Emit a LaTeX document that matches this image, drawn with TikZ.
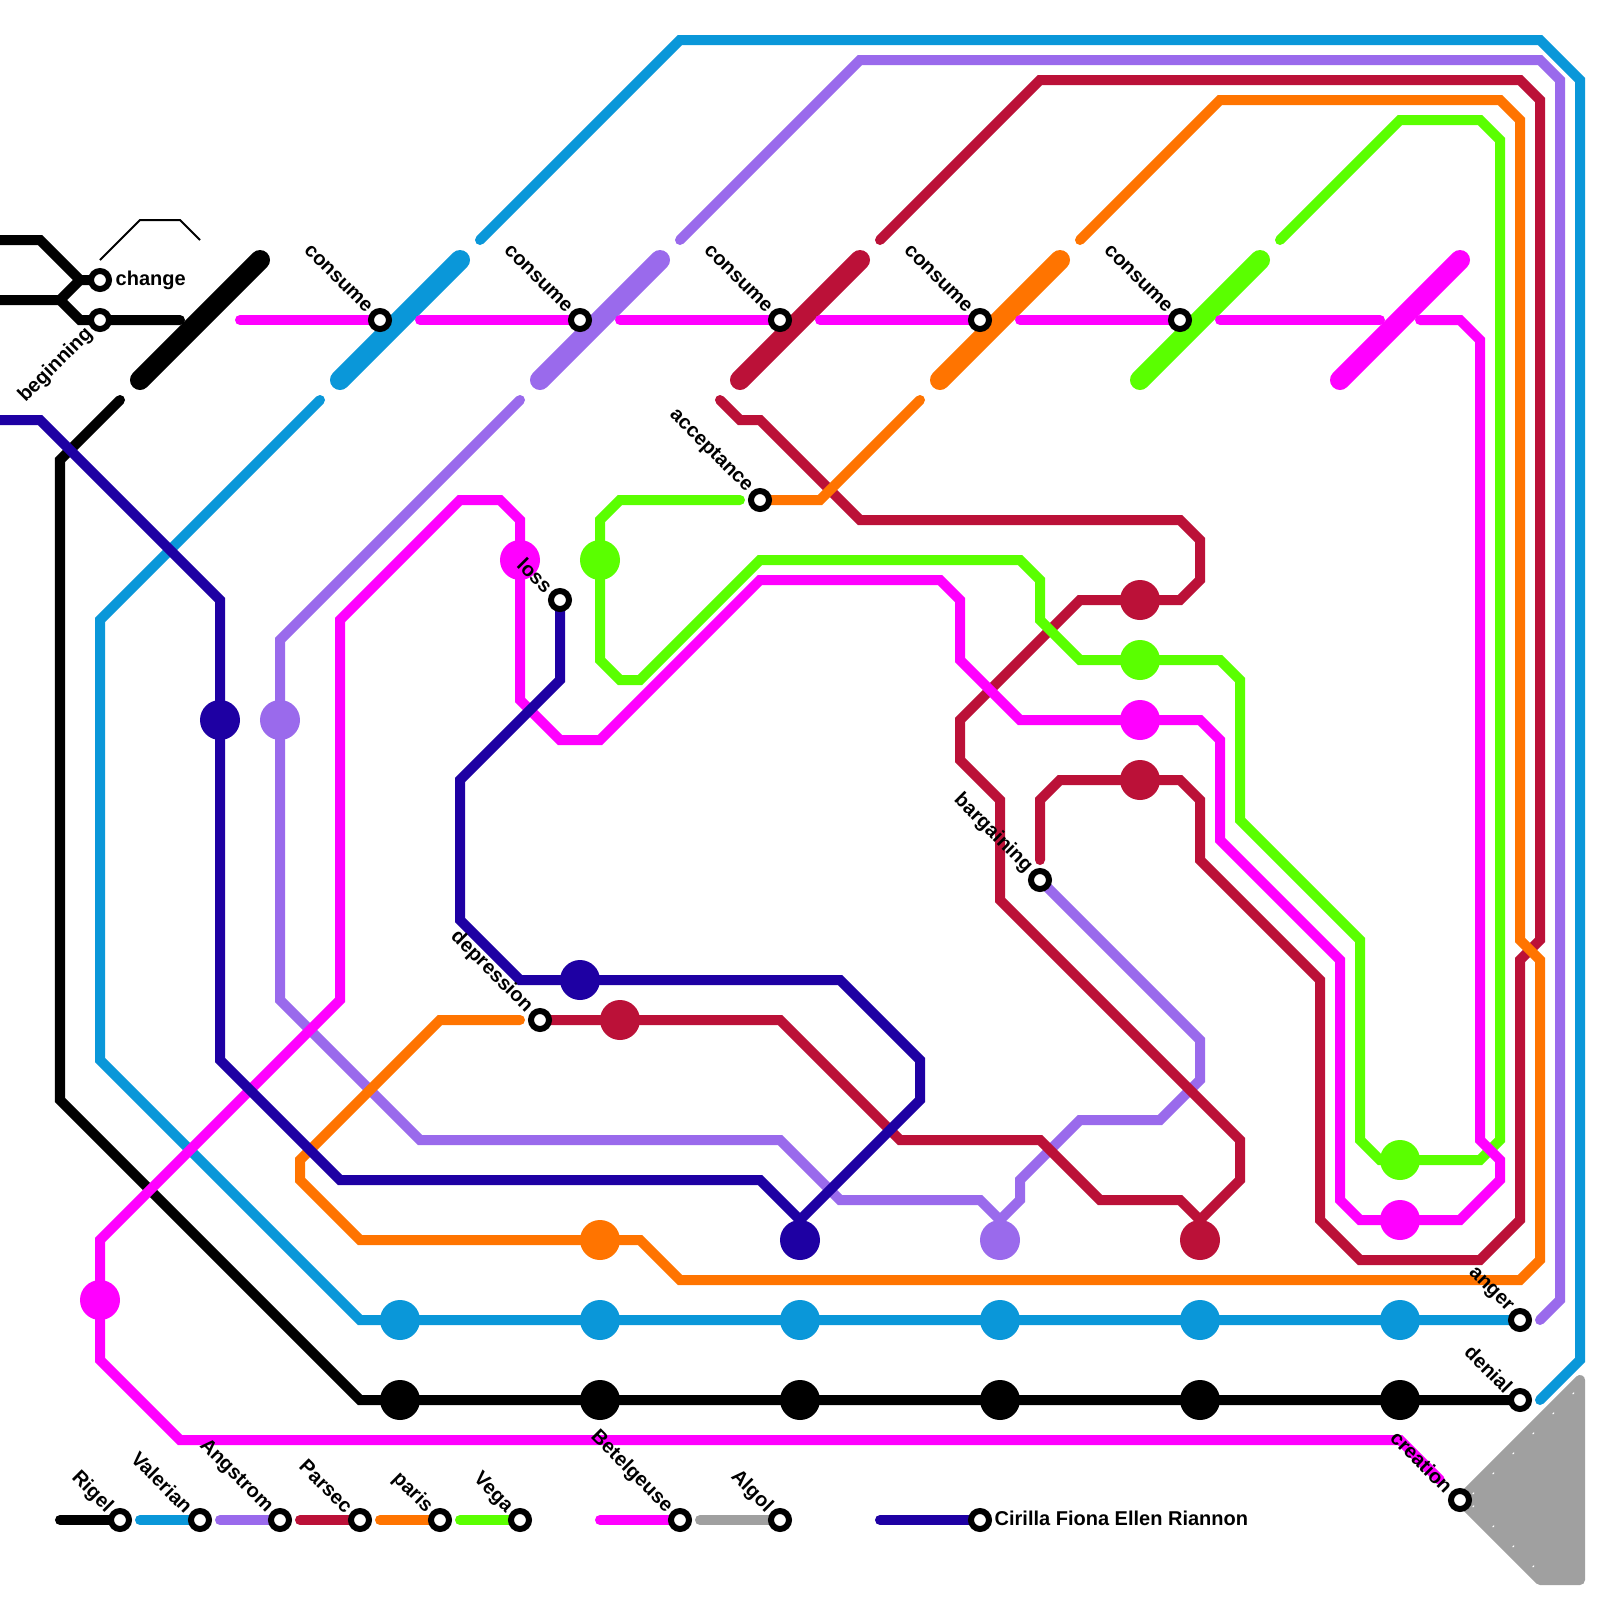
\documentclass[tikz,border=0pt]{standalone}
\usepackage{fontspec}
\setmainfont{Liberation Sans}
\definecolor{cRigel}{HTML}{000000}
\definecolor{cValerian}{HTML}{0A97D9}
\definecolor{cAngstrom}{HTML}{9A6AEC}
\definecolor{cParsec}{HTML}{BB1138}
\definecolor{cParis}{HTML}{FF7400}
\definecolor{cVega}{HTML}{5AFF00}
\definecolor{cBetel}{HTML}{FF00FF}
\definecolor{cAlgol}{HTML}{A0A0A0}
\definecolor{cCirilla}{HTML}{1E00A3}
\tikzset{
  metro/.style={draw=#1,line width=0.1cm,line cap=round,line join=miter,miter limit=10},
  fatline/.style={draw=#1,line width=0.2cm,line cap=round},
  dot/.style={circle,fill=#1,minimum size=0.4cm,inner sep=0pt,outer sep=0pt},
  stop/.style={circle,draw=black,fill=white,line width=0.06cm,minimum size=0.18cm,inner sep=0pt,outer sep=0pt},
  lab/.style={font=\fontsize{5.69}{7}\selectfont\bfseries,inner sep=0pt,text=black},
  labdown/.style={lab,rotate=-45,anchor=east,xshift=0.012cm,yshift=-0.016cm},
  labup/.style={lab,rotate=45,anchor=east},
  labright/.style={lab,anchor=west},
}
\begin{document}
\begin{tikzpicture}[x=0.2cm,y=-0.2cm]
\useasboundingbox (0,0) rectangle (80,80);
% ---- stations (declared first so the lines can refer to them; repainted on top)
\path
 (5,14) coordinate (change) (5,16) coordinate (beginning)
 (19,16) coordinate (consA) (29,16) coordinate (consB) (39,16) coordinate (consC)
 (49,16) coordinate (consD) (59,16) coordinate (consE)
 (38,25) coordinate (acceptance) (28,30) coordinate (loss) (52,44) coordinate (bargaining)
 (27,51) coordinate (depression) (76,66) coordinate (anger) (76,70) coordinate (denial)
 (73,75) coordinate (creation)
 (6,76) coordinate (lgRigel) (10,76) coordinate (lgValerian) (14,76) coordinate (lgAngstrom)
 (18,76) coordinate (lgParsec) (22,76) coordinate (lgParis) (26,76) coordinate (lgVega)
 (34,76) coordinate (lgBetel) (39,76) coordinate (lgAlgol) (49,76) coordinate (lgCirilla);
% ---- free ends
\path
 (0,12) coordinate (kA) (0,15) coordinate (kB) (9,16) coordinate (kC) (6,20) coordinate (kD)
 (5,13) coordinate (thA) (10,12) coordinate (thB)
 (7,19) coordinate (fatKa) (13,13) coordinate (fatKb)
 (17,19) coordinate (fatVa) (23,13) coordinate (fatVb)
 (27,19) coordinate (fatAa) (33,13) coordinate (fatAb)
 (37,19) coordinate (fatPa) (43,13) coordinate (fatPb)
 (47,19) coordinate (fatOa) (53,13) coordinate (fatOb)
 (57,19) coordinate (fatGa) (63,13) coordinate (fatGb)
 (67,19) coordinate (fatMa) (73,13) coordinate (fatMb);
% ---- grey Algol area
\draw[cAlgol,fill=cAlgol,line width=0.1cm,line join=round] (creation) -- (79,69) -- (79,79) -- (77,79) -- cycle;
\foreach \mx/\my in {1573/1393,1553/1413,1533/1433,1513/1453,1493/1473,1473/1493,1473/1506,1493/1526,1513/1546,1533/1566}
  \fill[white] (\mx/20-0.05,\my/20+0.05) -- (\mx/20+0.05,\my/20+0.05) -- (\mx/20+0.05,\my/20-0.05) -- cycle;
% ---- Rigel
\draw[metro=cRigel] (kA) -- (2,12) -- (4,14) -- (change);
\draw[metro=cRigel] (kB) -- (3,15) -- (4,14);
\draw[metro=cRigel] (3,15) -- (4,16) -- (beginning) -- (kC);
\draw[metro=cRigel] (kD) -- (3,23) -- (3,55) -- (18,70) -- (denial);
\draw[fatline=cRigel] (fatKa) -- (fatKb);
\draw[black,line width=0.02cm] (thA) -- (7,11) -- (9,11) -- (thB);
\node[dot=cRigel] (rA) at (20,70) {};
\node[dot=cRigel] (rB) at (30,70) {};
\node[dot=cRigel] (rC) at (40,70) {};
\node[dot=cRigel] (rD) at (50,70) {};
\node[dot=cRigel] (rE) at (60,70) {};
\node[dot=cRigel] (rF) at (70,70) {};
\draw[metro=cRigel] (3,76) -- (lgRigel);
% ---- Valerian
\draw[metro=cValerian] (24,12) -- (34,2) -- (77,2) -- (79,4) -- (79,68) -- (77,70);
\draw[fatline=cValerian] (fatVa) -- (fatVb);
\draw[metro=cValerian] (16,20) -- (5,31) -- (5,53) -- (18,66) -- (anger);
\node[dot=cValerian] (vA) at (20,66) {};
\node[dot=cValerian] (vB) at (30,66) {};
\node[dot=cValerian] (vC) at (40,66) {};
\node[dot=cValerian] (vD) at (50,66) {};
\node[dot=cValerian] (vE) at (60,66) {};
\node[dot=cValerian] (vF) at (70,66) {};
\draw[metro=cValerian] (7,76) -- (lgValerian);
% ---- Angstrom
\draw[metro=cAngstrom] (34,12) -- (43,3) -- (77,3) -- (78,4) -- (78,65) -- (77,66);
\draw[fatline=cAngstrom] (fatAa) -- (fatAb);
\draw[metro=cAngstrom] (26,20) -- (14,32) -- (14,50) -- (21,57) -- (39,57) -- (42,60) -- (49,60) -- (50,61) -- (50,62);
\draw[metro=cAngstrom] (bargaining) -- (60,52) -- (60,54) -- (58,56) -- (54,56) -- (51,59) -- (51,60) -- (50,61);
\node[dot=cAngstrom] (aA) at (14,36) {};
\node[dot=cAngstrom] (aB) at (50,62) {};
\draw[metro=cAngstrom] (11,76) -- (lgAngstrom);
% ---- Parsec
\draw[metro=cParsec] (44,12) -- (52,4) -- (76,4) -- (77,5) -- (77,47) -- (76,48) -- (76,61) -- (74,63) -- (68,63) -- (66,61) -- (66,49) -- (60,43) -- (60,40) -- (59,39) -- (53,39) -- (52,40) -- (52,43);
\draw[fatline=cParsec] (fatPa) -- (fatPb);
\draw[metro=cParsec] (36,20) -- (37,21) -- (38,21) -- (43,26) -- (59,26) -- (60,27) -- (60,29) -- (59,30) -- (54,30) -- (48,36) -- (48,38) -- (50,40) -- (50,45) -- (62,57) -- (62,59) -- (60,61) -- (59,60) -- (55,60) -- (52,57) -- (45,57) -- (39,51) -- (depression);
\draw[metro=cParsec] (60,61) -- (60,62);
\node[dot=cParsec] (pA) at (31,51) {};
\node[dot=cParsec] (pB) at (57,30) {};
\node[dot=cParsec] (pC) at (57,39) {};
\node[dot=cParsec] (pD) at (60,62) {};
\draw[metro=cParsec] (15,76) -- (lgParsec);
% ---- paris
\draw[metro=cParis] (54,12) -- (61,5) -- (75,5) -- (76,6) -- (76,47) -- (77,48) -- (77,63) -- (76,64) -- (34,64) -- (32,62) -- (18,62) -- (15,59) -- (15,58) -- (22,51) -- (26,51);
\draw[fatline=cParis] (fatOa) -- (fatOb);
\draw[metro=cParis] (46,20) -- (41,25) -- (acceptance);
\node[dot=cParis] (oA) at (30,62) {};
\draw[metro=cParis] (19,76) -- (lgParis);
% ---- Vega
\draw[metro=cVega] (64,12) -- (70,6) -- (74,6) -- (75,7) -- (75,57) -- (74,58) -- (69,58) -- (68,57) -- (68,47) -- (62,41) -- (62,34) -- (61,33) -- (54,33) -- (52,31) -- (52,29) -- (51,28) -- (38,28) -- (32,34) -- (31,34) -- (30,33) -- (30,26) -- (31,25) -- (37,25);
\draw[fatline=cVega] (fatGa) -- (fatGb);
\node[dot=cVega] (gA) at (30,28) {};
\node[dot=cVega] (gB) at (57,33) {};
\node[dot=cVega] (gC) at (70,58) {};
\draw[metro=cVega] (23,76) -- (lgVega);
% ---- Betelgeuse
\draw[metro=cBetel] (12,16) -- (consA);
\draw[metro=cBetel] (21,16) -- (consB);
\draw[metro=cBetel] (31,16) -- (consC);
\draw[metro=cBetel] (41,16) -- (consD);
\draw[metro=cBetel] (51,16) -- (consE);
\draw[metro=cBetel] (61,16) -- (69,16);
\draw[fatline=cBetel] (fatMa) -- (fatMb);
\draw[metro=cBetel] (71,16) -- (73,16) -- (74,17) -- (74,57) -- (75,58) -- (75,59) -- (73,61) -- (68,61) -- (67,60) -- (67,48) -- (61,42) -- (61,37) -- (60,36) -- (51,36) -- (48,33) -- (48,30) -- (47,29) -- (38,29) -- (30,37) -- (28,37) -- (26,35) -- (26,26) -- (25,25) -- (23,25) -- (17,31) -- (17,50) -- (5,62) -- (5,68) -- (9,72) -- (70,72) -- (72,74);
\node[dot=cBetel] (mA) at (26,28) {};
\node[dot=cBetel] (mB) at (57,36) {};
\node[dot=cBetel] (mC) at (70,61) {};
\node[dot=cBetel] (mD) at (5,65) {};
\draw[metro=cBetel] (30,76) -- (lgBetel);
% ---- Algol legend
\draw[metro=cAlgol] (35,76) -- (lgAlgol);
% ---- Cirilla
\draw[metro=cCirilla] (0,21) -- (2,21) -- (11,30) -- (11,53) -- (17,59) -- (38,59) -- (40,61) -- (46,55) -- (46,53) -- (42,49) -- (26,49) -- (23,46) -- (23,39) -- (28,34) -- (loss);
\draw[metro=cCirilla] (40,61) -- (40,62);
\node[dot=cCirilla] (cA) at (11,36) {};
\node[dot=cCirilla] (cB) at (29,49) {};
\node[dot=cCirilla] (cC) at (40,62) {};
\draw[metro=cCirilla] (44,76) -- (lgCirilla);
% ---- station rings
\foreach \s in {change,beginning,consA,consB,consC,consD,consE,acceptance,loss,bargaining,depression,anger,denial,creation,lgRigel,lgValerian,lgAngstrom,lgParsec,lgParis,lgVega,lgBetel,lgAlgol,lgCirilla}
  \node[stop] (ring\s) at (\s) {};
% ---- labels
\node[labright] (tChange) at (5.75,14) {change};
\node[labup] (tBeginning) at (4.5,16.55) {beginning};
\node[labdown] (tA) at (18.5,15.4) {consume};
\node[labdown] (tB) at (28.5,15.4) {consume};
\node[labdown] (tC) at (38.5,15.4) {consume};
\node[labdown] (tD) at (48.5,15.4) {consume};
\node[labdown] (tE) at (58.5,15.4) {consume};
\node[labdown] (tAcc) at (37.5,24.4) {acceptance};
\node[labdown] (tLoss) at (27.5,29.4) {loss};
\node[labdown] (tBar) at (51.5,43.4) {bargaining};
\node[labdown] (tDep) at (26.5,50.4) {depression};
\node[labdown] (tAng) at (75.5,65.4) {anger};
\node[labdown] (tDen) at (75.5,69.4) {denial};
\node[labdown] (tCre) at (72.5,74.4) {creation};
\node[labdown] (lA) at (5.5,75.4) {Rigel};
\node[labdown] (lB) at (9.5,75.4) {Valerian};
\node[labdown] (lC) at (13.5,75.4) {Angstrom};
\node[labdown] (lD) at (17.5,75.4) {Parsec};
\node[labdown] (lE) at (21.5,75.4) {paris};
\node[labdown] (lF) at (25.5,75.4) {Vega};
\node[labdown] (lG) at (33.5,75.4) {Betelgeuse};
\node[labdown] (lH) at (38.5,75.4) {Algol};
\node[labright] (lI) at (49.7,75.9) {Cirilla Fiona Ellen Riannon};
\end{tikzpicture}
\end{document}
